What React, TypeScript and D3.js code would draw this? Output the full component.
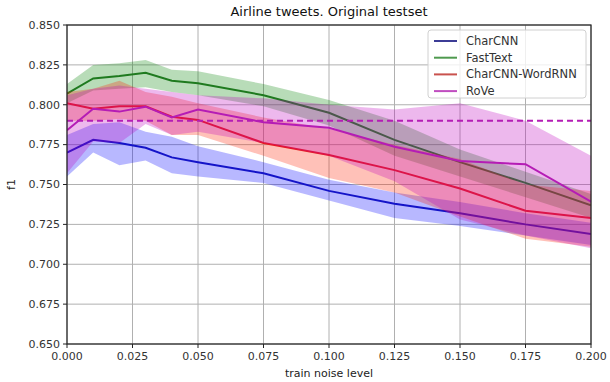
import * as React from "react";
import * as d3 from "d3";

const noise = [0, 0.01, 0.02, 0.03, 0.04, 0.05, 0.075, 0.1, 0.125, 0.15, 0.175, 0.2];

const charcnn = [0.770, 0.778, 0.776, 0.773, 0.767, 0.764, 0.757, 0.746, 0.738, 0.732, 0.725, 0.719];
const charcnnHi = [0.781, 0.788, 0.789, 0.783, 0.780, 0.774, 0.764, 0.753, 0.745, 0.739, 0.732, 0.726];
const charcnnLo = [0.755, 0.770, 0.762, 0.765, 0.757, 0.755, 0.751, 0.740, 0.729, 0.724, 0.718, 0.712];

const fasttext = [0.807, 0.8165, 0.818, 0.820, 0.815, 0.8135, 0.806, 0.795, 0.778, 0.764, 0.751, 0.737];
const fasttextHi = [0.813, 0.825, 0.826, 0.828, 0.822, 0.821, 0.813, 0.803, 0.790, 0.772, 0.758, 0.744];
const fasttextLo = [0.801, 0.809, 0.810, 0.811, 0.808, 0.806, 0.799, 0.787, 0.768, 0.755, 0.742, 0.729];

const wordrnn = [0.801, 0.7975, 0.799, 0.799, 0.7925, 0.7905, 0.776, 0.7685, 0.759, 0.7475, 0.7335, 0.729];
const wordrnnHi = [0.808, 0.810, 0.815, 0.808, 0.805, 0.801, 0.792, 0.785, 0.775, 0.766, 0.750, 0.746];
const wordrnnLo = [0.790, 0.790, 0.791, 0.790, 0.781, 0.781, 0.768, 0.754, 0.745, 0.730, 0.716, 0.711];

const rove = [0.784, 0.7975, 0.7957, 0.7988, 0.792, 0.797, 0.789, 0.7856, 0.7737, 0.7647, 0.7627, 0.7392];
const roveHi = [0.806, 0.810, 0.812, 0.810, 0.808, 0.806, 0.804, 0.800, 0.797, 0.801, 0.790, 0.768];
const roveLo = [0.757, 0.777, 0.776, 0.788, 0.781, 0.783, 0.776, 0.768, 0.752, 0.728, 0.718, 0.710];

const baseline = 0.790;

const seriesNames = ["CharCNN", "FastText", "CharCNN-WordRNN", "RoVe"];
const lineColors = ["#1414c8", "#1f7a1f", "#e81c1c", "#b51cb5"];
const fillColors = ["#0000ff", "#008000", "#ff2000", "#bf00bf"];
const legendColors = ["#3c3c96", "#4f9a4f", "#c9524e", "#c04dc0"];

const xTicks = [0, 0.025, 0.05, 0.075, 0.1, 0.125, 0.15, 0.175, 0.2];
const yTicks = [0.65, 0.675, 0.7, 0.725, 0.75, 0.775, 0.8, 0.825, 0.85];

const App = () => {
  const width = 610;
  const height = 382;
  const margin = { top: 25, right: 19, bottom: 38, left: 67 };

  const x = d3.scaleLinear().domain([0, 0.2]).range([margin.left, width - margin.right]);
  const y = d3.scaleLinear().domain([0.65, 0.85]).range([height - margin.bottom, margin.top]);

  const means = [charcnn, fasttext, wordrnn, rove];
  const his = [charcnnHi, fasttextHi, wordrnnHi, roveHi];
  const los = [charcnnLo, fasttextLo, wordrnnLo, roveLo];

  const line = d3.line<number>().x((d, i) => x(noise[i])).y(d => y(d));
  const area = (hi: number[], lo: number[]) =>
    d3.area<number>()
      .x((d, i) => x(noise[i]))
      .y0((d, i) => y(lo[i]))
      .y1((d, i) => y(hi[i]))(hi);

  const font = "DejaVu Sans, sans-serif";
  const fmt = d3.format(".3f");
  const lx = 428;
  const ly = 30;

  return (
    <svg width={width} height={height} style={{ position: "absolute", left: 0, top: 0 }} fontFamily={font}>
      <rect width={width} height={height} fill="#fff" />
      <defs>
        <clipPath id="plot">
          <rect x={margin.left} y={margin.top} width={width - margin.left - margin.right} height={height - margin.top - margin.bottom} />
        </clipPath>
      </defs>
      {/* grid */}
      {xTicks.map(t => (
        <line key={"gx" + t} x1={x(t)} x2={x(t)} y1={margin.top} y2={height - margin.bottom} stroke="#b0b0b0" strokeWidth={1} />
      ))}
      {yTicks.map(t => (
        <line key={"gy" + t} x1={margin.left} x2={width - margin.right} y1={y(t)} y2={y(t)} stroke="#b0b0b0" strokeWidth={1} />
      ))}
      <g clipPath="url(#plot)">
        {means.map((m, i) => (
          <g key={seriesNames[i]}>
            <path d={area(his[i], los[i]) || ""} fill={fillColors[i]} fillOpacity={0.28} />
            <path d={line(m) || ""} fill="none" stroke={lineColors[i]} strokeWidth={2} />
          </g>
        ))}
        <line x1={x(0)} x2={x(0.2)} y1={y(baseline)} y2={y(baseline)} stroke="#b51cb5" strokeWidth={2} strokeDasharray="6,4" />
      </g>
      {/* frame */}
      <rect x={margin.left} y={margin.top} width={width - margin.left - margin.right} height={height - margin.top - margin.bottom} fill="none" stroke="#222" strokeWidth={1.2} />
      {/* x axis */}
      {xTicks.map(t => (
        <g key={"xt" + t}>
          <line x1={x(t)} x2={x(t)} y1={height - margin.bottom} y2={height - margin.bottom + 4} stroke="#222" />
          <text x={x(t)} y={height - margin.bottom + 16} textAnchor="middle" fontSize={11} fill="#333">{fmt(t)}</text>
        </g>
      ))}
      {yTicks.map(t => (
        <g key={"yt" + t}>
          <line x1={margin.left - 4} x2={margin.left} y1={y(t)} y2={y(t)} stroke="#222" />
          <text x={margin.left - 7} y={y(t)} dy="0.35em" textAnchor="end" fontSize={11} fill="#333">{fmt(t)}</text>
        </g>
      ))}
      <text x={(margin.left + width - margin.right) / 2} y={377} textAnchor="middle" fontSize={11} fill="#222">train noise level</text>
      <text transform={`translate(15,${(margin.top + height - margin.bottom) / 2}) rotate(-90)`} textAnchor="middle" fontSize={11} fill="#222">f1</text>
      <text x={(margin.left + width - margin.right) / 2} y={16} textAnchor="middle" fontSize={13} fill="#111">Airline tweets. Original testset</text>
      {/* legend */}
      <rect x={lx} y={ly} width={158} height={68} rx={3} fill="#fff" fillOpacity={0.8} stroke="#d0d0d0" />
      {seriesNames.map((n, i) => (
        <g key={"lg" + n}>
          <line x1={lx + 6} x2={lx + 29} y1={ly + 11 + i * 16.7} y2={ly + 11 + i * 16.7} stroke={legendColors[i]} strokeWidth={2} />
          <text x={lx + 38} y={ly + 11 + i * 16.7} dy="0.35em" fontSize={11.5} fill="#333">{n}</text>
        </g>
      ))}
    </svg>
  );
};

export default App;
